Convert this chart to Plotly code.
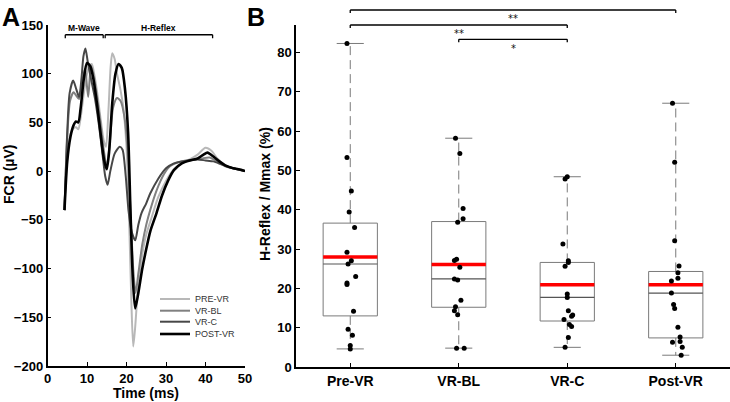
import plotly.graph_objects as go

# ---------------- Panel A data (FCR traces) ----------------
pre_t = [4.3, 5.0, 5.8, 6.6, 7.2, 7.8, 8.4, 9.2, 10.0, 10.6, 11.2, 11.8, 12.6, 13.4, 14.2, 14.8, 15.4, 16.0, 16.4, 17.0, 17.6, 18.4, 19.2, 20.0, 20.6, 21.2, 21.7, 22.2, 23.0, 24.0, 25.0, 26.4, 28.0, 30.0, 32.0, 34.0, 36.0, 38.0, 40.0, 41.5, 43.0, 45.0, 47.0, 49.0, 50.0]
pre_v = [-40, 15, 38, 44, 45, 43, 55, 80, 100, 108, 110, 100, 80, 55, 32, 25, 60, 108, 121, 115, 100, 85, 65, 25, -40, -130, -180, -160, -115, -85, -65, -47, -27, -10, 2, 8, 12, 17, 24, 21, 13, 6, 3, 1, 0]

bl_t = [4.3, 5.0, 5.7, 6.6, 7.2, 8.0, 8.8, 9.5, 10.3, 11.0, 11.6, 12.4, 13.4, 14.3, 15.0, 15.8, 16.6, 17.6, 18.5, 19.5, 20.3, 21.0, 21.7, 22.3, 23.0, 24.0, 25.0, 26.0, 27.6, 29.5, 31.0, 33.0, 35.0, 37.0, 39.0, 41.0, 43.0, 45.0, 47.0, 49.0, 50.0]
bl_v = [-40, 35, 72, 81, 78, 74, 92, 105, 76, 108, 100, 80, 50, 20, 5, 30, 65, 75, 72, 55, 20, -40, -100, -125, -105, -75, -55, -40, -20, -3, 5, 9, 11, 12, 13, 14, 10, 5, 3, 1, 0]

c_t = [4.3, 5.0, 5.6, 6.5, 7.3, 8.0, 8.6, 9.1, 9.6, 10.2, 11.0, 12.0, 13.0, 14.0, 14.6, 15.2, 15.9, 17.0, 18.3, 19.0, 19.8, 20.5, 21.3, 22.2, 23.0, 23.8, 25.0, 26.0, 28.0, 30.0, 32.0, 34.0, 36.0, 38.0, 40.0, 42.0, 44.0, 46.0, 48.0, 50.0]
c_v = [-40, 40, 80, 93, 84, 76, 95, 118, 126, 112, 95, 75, 48, 15, -5, -14, 0, 18, 25, 22, -5, -40, -62, -71, -55, -43, -33, -23, -8, 3, 8, 10, 11, 12, 11, 10, 7, 4, 2, 0]

post_t = [4.3, 5.0, 5.8, 6.6, 7.2, 7.8, 8.4, 9.2, 10.0, 10.8, 11.6, 12.5, 13.4, 14.3, 15.0, 15.6, 16.4, 17.2, 18.0, 18.8, 19.6, 20.4, 21.0, 21.6, 22.2, 23.0, 24.0, 25.0, 26.0, 27.6, 29.0, 30.5, 32.0, 34.0, 36.0, 38.0, 39.5, 40.5, 42.0, 43.5, 45.0, 47.0, 49.0, 50.0]
post_v = [-40, 10, 35, 47, 51, 50, 65, 95, 111, 108, 95, 70, 40, 12, 2, 20, 70, 100, 110, 106, 85, 40, -40, -110, -141, -125, -100, -80, -62, -43, -25, -10, 1, 8, 11, 13, 17, 19, 15, 10, 6, 3, 1.5, 0]

trace_names = ["PRE-VR", "VR-BL", "VR-C", "POST-VR"]

# ---------------- Panel B data (H-reflex / Mmax) ----------------
categories = ["Pre-VR", "VR-BL", "VR-C", "Post-VR"]
pre_vals = [82.3, 53.3, 44.8, 39.4, 35.5, 29.2, 27.0, 26.2, 23.0, 21.4, 21.0, 14.2, 9.6, 8.1, 5.5, 4.6]
bl_vals = [58.2, 54.3, 40.3, 37.7, 36.8, 27.4, 27.1, 25.4, 22.4, 22.1, 17.0, 15.3, 14.3, 13.3, 4.8, 4.8]
c_vals = [48.4, 47.8, 31.3, 27.0, 26.6, 25.6, 18.6, 17.7, 14.3, 13.2, 12.9, 12.1, 10.8, 10.3, 7.5, 5.0]
post_vals = [67.1, 52.1, 32.1, 25.7, 24.0, 22.6, 21.9, 18.8, 15.9, 14.9, 10.1, 7.6, 6.5, 6.3, 5.0, 3.0]
# horizontal jitter of the dots (category units)
pre_jit = [-0.03, -0.03, 0.01, -0.01, 0.04, -0.03, 0.01, -0.02, 0.05, -0.03, -0.03, 0.03, -0.02, 0.02, 0.0, 0.0]
bl_jit = [-0.03, 0.01, 0.04, 0.04, -0.01, -0.02, -0.04, 0.01, -0.04, -0.01, 0.02, -0.03, -0.04, -0.01, -0.02, 0.05]
c_jit = [0.0, -0.02, -0.04, 0.01, 0.01, -0.02, 0.0, 0.0, 0.01, 0.05, 0.04, -0.03, 0.02, 0.04, 0.01, -0.02]
post_jit = [-0.03, -0.01, -0.01, 0.03, 0.02, 0.02, -0.04, -0.04, -0.02, -0.01, 0.02, 0.04, 0.04, -0.03, 0.06, 0.05]

q1 = [13.0, 15.2, 11.7, 7.4]
median = [26.2, 22.4, 17.7, 18.8]
q3 = [36.6, 37.0, 26.6, 24.3]
lower_whisker = [4.6, 4.8, 5.0, 3.0]
upper_whisker = [82.3, 58.2, 48.4, 67.1]
mean = [28.0, 26.1, 20.9, 20.9]

sig_pairs = [(1, 4), (1, 3), (2, 3)]
sig_labels = ["**", "**", "*"]

# ---------------- styling helpers ----------------
W, H = 730, 402
FONT = "Liberation Sans, Arial, sans-serif"


def px_x(px):
    return px / W


def px_y(py):
    return 1 - py / H


fig = go.Figure()

# Panel A traces
colors = ["#b8b8b8", "#808080", "#474747", "#000000"]
widths = [2.0, 2.0, 2.0, 2.6]
series = [(pre_t, pre_v), (bl_t, bl_v), (c_t, c_v), (post_t, post_v)]
for (t, v), name, col, w in zip(series, trace_names, colors, widths):
    fig.add_trace(go.Scatter(x=t, y=v, mode="lines", name=name,
                             line=dict(color=col, width=w, shape="spline", smoothing=0.7),
                             xaxis="x", yaxis="y", showlegend=False, hoverinfo="skip"))

# Panel B: boxes
BW = 0.25  # half box width
CW = 0.125  # half cap width
pos = [1, 2, 3, 4]
bx, by, mx, my, ex, ey, wx, wy, cx, cy = [], [], [], [], [], [], [], [], [], []
for i, p in enumerate(pos):
    bx += [p - BW, p + BW, p + BW, p - BW, p - BW, None]
    by += [q1[i], q1[i], q3[i], q3[i], q1[i], None]
    mx += [p - BW, p + BW, None]
    my += [median[i], median[i], None]
    ex += [p - BW, p + BW, None]
    ey += [mean[i], mean[i], None]
    wx += [p, p, None, p, p, None]
    wy += [q3[i], upper_whisker[i], None, q1[i], lower_whisker[i], None]
    cx += [p - CW, p + CW, None, p - CW, p + CW, None]
    cy += [upper_whisker[i], upper_whisker[i], None, lower_whisker[i], lower_whisker[i], None]

common = dict(xaxis="x2", yaxis="y2", showlegend=False, hoverinfo="skip", mode="lines")
fig.add_trace(go.Scatter(x=wx, y=wy, line=dict(color="#7a7a7a", width=1, dash="9px,5px"), **common))
fig.add_trace(go.Scatter(x=cx, y=cy, line=dict(color="#7a7a7a", width=1), **common))
fig.add_trace(go.Scatter(x=bx, y=by, line=dict(color="#7a7a7a", width=1), **common))
fig.add_trace(go.Scatter(x=mx, y=my, line=dict(color="#555555", width=1.2), **common))
fig.add_trace(go.Scatter(x=ex, y=ey, line=dict(color="#ff0000", width=3.5), **common))

all_vals = [pre_vals, bl_vals, c_vals, post_vals]
all_jit = [pre_jit, bl_jit, c_jit, post_jit]
px_pts, py_pts = [], []
for p, vals, jit in zip(pos, all_vals, all_jit):
    px_pts += [p + j for j in jit]
    py_pts += vals
fig.add_trace(go.Scatter(x=px_pts, y=py_pts, mode="markers",
                         marker=dict(size=5, color="black"),
                         xaxis="x2", yaxis="y2", showlegend=False, hoverinfo="skip"))

# ---------------- shapes & annotations ----------------
shapes = []
annotations = []

# Panel A brackets
brackets_A = [(4.5, 14.1, "M-Wave"), (14.6, 41.8, "H-Reflex")]
for x0, x1, lab in brackets_A:
    shapes.append(dict(type="line", xref="x", yref="y", x0=x0, x1=x1, y0=140, y1=140,
                       line=dict(color="black", width=1.3)))
    for xe in (x0, x1):
        shapes.append(dict(type="line", xref="x", yref="y", x0=xe, x1=xe, y0=140, y1=136.5,
                           line=dict(color="black", width=1.3)))
    annotations.append(dict(xref="x", yref="y", x=(x0 + x1) / 2, y=147, text=lab, showarrow=False,
                            font=dict(family=FONT, size=8.5, color="black", weight="bold"),
                            xanchor="center", yanchor="middle"))

# Panel A legend (manual)
leg_y = [299, 310.7, 321.7, 334]
for name, col, w, ly in zip(trace_names, colors, widths, leg_y):
    shapes.append(dict(type="line", xref="paper", yref="paper", x0=px_x(160), x1=px_x(190),
                       y0=px_y(ly), y1=px_y(ly), line=dict(color=col, width=w)))
    annotations.append(dict(xref="paper", yref="paper", x=px_x(193), y=px_y(ly), text=name,
                            showarrow=False, xanchor="left", yanchor="middle",
                            font=dict(family=FONT, size=9, color="#333333")))

# Panel B significance brackets
bracket_py = [10, 25, 39.3]
star_py = [18, 33, 48]
for (a, b), lab, byy, sy in zip(sig_pairs, sig_labels, bracket_py, star_py):
    shapes.append(dict(type="line", xref="x2", yref="paper", x0=a, x1=b, y0=px_y(byy), y1=px_y(byy),
                       line=dict(color="black", width=1.3)))
    for xe in (a, b):
        shapes.append(dict(type="line", xref="x2", yref="paper", x0=xe, x1=xe,
                           y0=px_y(byy), y1=px_y(byy + 3), line=dict(color="black", width=1.3)))
    annotations.append(dict(xref="x2", yref="paper", x=(a + b) / 2, y=px_y(sy), text=lab,
                            showarrow=False, xanchor="center", yanchor="middle",
                            font=dict(family="DejaVu Sans, sans-serif", size=10, color="#111111")))

# Axis titles
annotations.append(dict(xref="paper", yref="paper", x=px_x(146), y=px_y(393), text="Time (ms)",
                        showarrow=False, xanchor="center", yanchor="middle",
                        font=dict(family=FONT, size=14, color="black", weight="bold")))
annotations.append(dict(xref="paper", yref="paper", x=px_x(9), y=px_y(175), text="FCR (µV)",
                        showarrow=False, xanchor="center", yanchor="middle", textangle=-90,
                        font=dict(family=FONT, size=14, color="black", weight="bold")))
annotations.append(dict(xref="paper", yref="paper", x=px_x(265), y=px_y(194), text="H-Reflex / Mmax (%)",
                        showarrow=False, xanchor="center", yanchor="middle", textangle=-90,
                        font=dict(family=FONT, size=14, color="black", weight="bold")))
# Panel letters
annotations.append(dict(xref="paper", yref="paper", x=px_x(0), y=px_y(1), text="A",
                        showarrow=False, xanchor="left", yanchor="top",
                        font=dict(family=FONT, size=25, color="black", weight="bold")))
annotations.append(dict(xref="paper", yref="paper", x=px_x(245), y=px_y(1), text="B",
                        showarrow=False, xanchor="left", yanchor="top",
                        font=dict(family=FONT, size=25, color="black", weight="bold")))

axis_style = dict(showline=True, linecolor="black", linewidth=1.5, ticks="inside", ticklen=4,
                  tickwidth=1.2, tickcolor="black", showgrid=False, zeroline=False, mirror=False,
                  automargin=False,
                  tickfont=dict(family=FONT, size=13, color="black", weight="bold"))

fig.update_layout(
    width=W, height=H,
    margin=dict(l=0, r=0, t=0, b=0, pad=0),
    paper_bgcolor="white", plot_bgcolor="white",
    showlegend=False,
    xaxis=dict(domain=[px_x(47.5), px_x(245)], range=[0, 50], tickvals=[0, 10, 20, 30, 40, 50],
               anchor="y", **axis_style),
    yaxis=dict(domain=[px_y(366), px_y(25)], range=[-200, 150],
               tickvals=[-200, -150, -100, -50, 0, 50, 100, 150], anchor="x", **axis_style),
    xaxis2=dict(domain=[px_x(296), 1.0], range=[0.5, 4.5], tickvals=pos, ticktext=categories,
                anchor="y2", **{**axis_style, "tickfont": dict(family=FONT, size=14, color="black", weight="bold")}),
    yaxis2=dict(domain=[px_y(367), px_y(25)], range=[0, 87], tickvals=list(range(0, 81, 10)),
                anchor="x2", **axis_style),
    shapes=shapes,
    annotations=annotations,
)

fig.write_html("out.html")
